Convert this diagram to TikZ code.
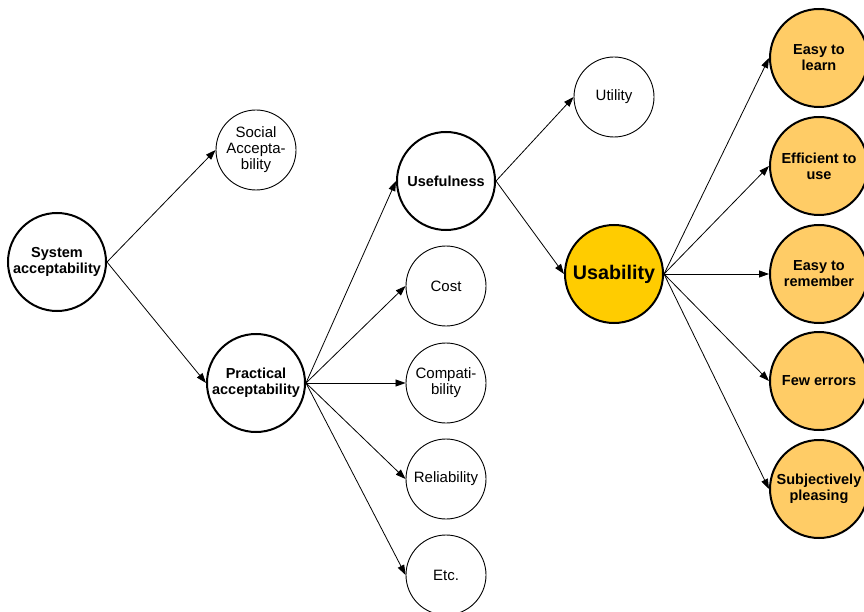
\documentclass[tikz,border=0pt]{standalone}
\usepackage{fontspec}
\setmainfont{Liberation Sans}
\usetikzlibrary{positioning,arrows.meta}
\definecolor{usabgold}{HTML}{FFCC00}
\definecolor{goalgold}{HTML}{FFCC66}

\begin{document}
\begin{tikzpicture}[x=1pt, y=-1pt, on grid, node distance=96pt,
    big/.style = {draw, circle, line width=2pt, minimum size=98pt, inner sep=0pt, align=center, font=\fontsize{14.5}{16}\selectfont\bfseries},
    small/.style = {draw, circle, line width=0.9pt, minimum size=80pt, inner sep=0pt, align=center, font=\fontsize{15}{16}\selectfont},
    goal/.style = {big, fill=goalgold},
    arr/.style = {-{Triangle[length=10pt, width=7pt]}, line width=0.8pt}]
    \useasboundingbox (0,0) rectangle (864,612);
    \node[big] (sys) at (57,262) {System\\acceptability};
    \node[small] (soc) at (256,150) {Social\\Accepta-\\bility};
    \node[big] (prac) at (256,383) {Practical\\acceptability};
    \node[big] (useful) at (446,181) {Usefulness};
    \node[small] (compat) [right=190pt of prac] {Compati-\\bility};
    \node[small] (cost) [above=97pt of compat] {Cost};
    \node[small] (rel) [below=of compat] {Reliability};
    \node[small] (etc) [below=of rel] {Etc.};
    \node[small] (util) at (614,97) {Utility};
    \node[big, fill=usabgold, font=\fontsize{19.7}{22}\selectfont\bfseries] (usab) at (614,274) {Usability};
    \node[goal] (rem) [right=205pt of usab] {Easy to\\remember};
    \node[goal] (eff) [above=108pt of rem] {Efficient to\\use};
    \node[goal] (learn) [above=108pt of eff] {Easy to\\learn};
    \node[goal] (few) [below=107pt of rem] {Few errors};
    \node[goal] (subj) [below=108pt of few] {Subjectively\\pleasing};
    \path[arr]
    (sys.east) edge (soc.west)
    (sys.east) edge (prac.west)
    (prac.east) edge (useful.west)
    (prac.east) edge (cost.west)
    (prac.east) edge (compat.west)
    (prac.east) edge (rel.west)
    (prac.east) edge (etc.west)
    (useful.east) edge (util.west)
    (useful.east) edge (usab.west)
    (usab.east) edge (learn.west)
    (usab.east) edge (eff.west)
    (usab.east) edge (rem.west)
    (usab.east) edge (few.west)
    (usab.east) edge (subj.west)
    ;
\end{tikzpicture}
\end{document}
